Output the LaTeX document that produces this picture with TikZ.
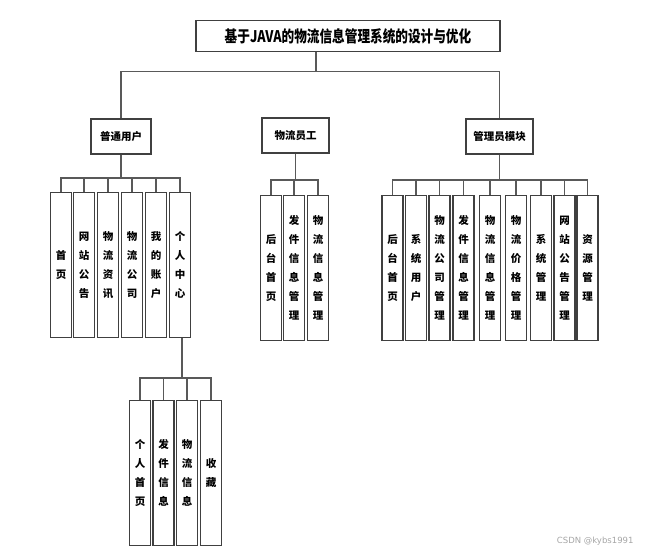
\documentclass[tikz,border=0pt]{standalone}
\usepackage{fontspec}
\newfontfamily\cjk{Noto Sans CJK SC}
\setsansfont{DejaVu Sans}
\begin{document}
\begin{tikzpicture}[x=1pt,y=-1pt,
  box/.style={draw=black!75, line width=1.1pt, fill=white, inner sep=0pt, font=\cjk\bfseries\fontsize{10.5}{13}\selectfont},
  vbox/.style={box, minimum width=21pt, minimum height=145pt, align=center, anchor=north, font=\cjk\bfseries\fontsize{10.5}{19}\selectfont},
  link/.style={draw=black!65, line width=1.1pt}]
\useasboundingbox[fill=white] (0,0) rectangle (645,552);
% title
\node[box, minimum width=304pt, minimum height=31pt, font=\cjk\bfseries\fontsize{16}{18}\selectfont] (title) at (348,36) {\scalebox{0.79}[1]{基于JAVA的物流信息管理系统的设计与优化}};
% level 1
\node[box, minimum width=60pt, minimum height=35pt] (p1) at (121,136.5) {普通用户};
\node[box, minimum width=67pt, minimum height=35pt] (p2) at (295.5,135.5) {物流员工};
\node[box, minimum width=67pt, minimum height=35pt] (p3) at (499.5,136.5) {管理员模块};
% 普通用户 children
\node[vbox] (a1) at (61,192) {首\\页};
\node[vbox] (a2) at (84,192) {网\\站\\公\\告};
\node[vbox] (a3) at (108,192) {物\\流\\资\\讯};
\node[vbox] (a4) at (132,192) {物\\流\\公\\司};
\node[vbox] (a5) at (156,192) {我\\的\\账\\户};
\node[vbox] (a6) at (180,192) {个\\人\\中\\心};
% 物流员工 children
\node[vbox] (b1) at (271,195) {后\\台\\首\\页};
\node[vbox] (b2) at (294,195) {发\\件\\信\\息\\管\\理};
\node[vbox] (b3) at (318,195) {物\\流\\信\\息\\管\\理};
% 管理员模块 children
\node[vbox] (c1) at (392.5,195) {后\\台\\首\\页};
\node[vbox] (c2) at (416,195) {系\\统\\用\\户};
\node[vbox] (c3) at (439.5,195) {物\\流\\公\\司\\管\\理};
\node[vbox] (c4) at (463.5,195) {发\\件\\信\\息\\管\\理};
\node[vbox] (c5) at (490,195) {物\\流\\信\\息\\管\\理};
\node[vbox] (c6) at (516,195) {物\\流\\价\\格\\管\\理};
\node[vbox] (c7) at (541,195) {系\\统\\管\\理};
\node[vbox] (c8) at (564.5,195) {网\\站\\公\\告\\管\\理};
\node[vbox] (c9) at (587.5,195) {资\\源\\管\\理};
% 个人中心 children
\node[vbox] (d1) at (140,400) {个\\人\\首\\页};
\node[vbox] (d2) at (163.5,400) {发\\件\\信\\息};
\node[vbox] (d3) at (187,400) {物\\流\\信\\息};
\node[vbox] (d4) at (211,400) {收\\藏};
% connectors
\draw[link] ([xshift=-32pt]title.south) -- ++(0,19) coordinate (tb);
\draw[link] (tb) -| (p1.north);
\draw[link] (tb) -| (p3.north);
\foreach \c in {a1,a2,a3,a4,a5,a6}
  \draw[link] (p1.south) |- ([yshift=14pt]\c.north) -- (\c.north);
\foreach \c in {b1,b2,b3}
  \draw[link] (p2.south) |- ([yshift=15pt]\c.north) -- (\c.north);
\foreach \c in {c1,c2,c3,c4,c5,c6,c7,c8,c9}
  \draw[link] (p3.south) |- ([yshift=15pt]\c.north) -- (\c.north);
\foreach \c in {d1,d2,d3,d4}
  \draw[link] ([xshift=2pt]a6.south) |- ([yshift=22pt]\c.north) -- (\c.north);
% watermark
\node[text=black!35, font=\sffamily\fontsize{8.5}{10}\selectfont, anchor=east] (wm) at (637,541) {CSDN @kybs1991};
\end{tikzpicture}
\end{document}
